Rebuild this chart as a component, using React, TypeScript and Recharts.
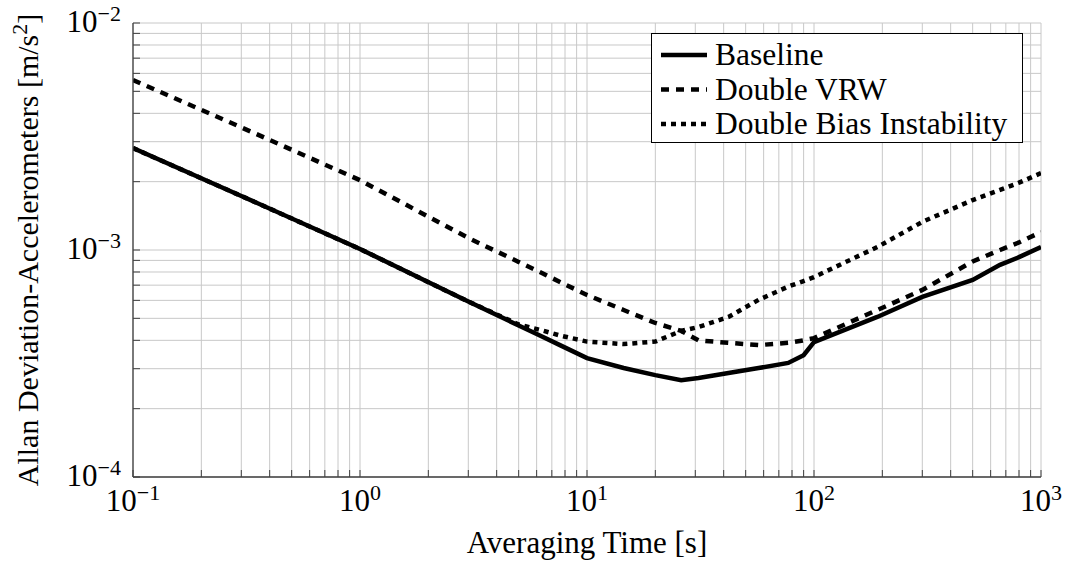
import React from "react";
import { LineChart, Line, XAxis, YAxis, CartesianGrid, Legend } from "recharts";

// averaging time [s] and the three Allan deviation curves [m/s^2]
const tau = [0.1, 0.3, 1, 3, 5, 6.2, 7.6, 10, 14.5, 20, 26, 31, 42, 57, 77, 90, 100, 190, 300, 500, 660, 800, 1000];
const baseline = [
  2.81e-3, 1.73e-3, 1.01e-3, 5.93e-4, 4.65e-4, 4.2e-4, 3.81e-4, 3.34e-4, 3.02e-4, 2.81e-4, 2.67e-4,
  2.73e-4, 2.87e-4, 3.02e-4, 3.18e-4, 3.44e-4, 3.93e-4, 5.07e-4, 6.21e-4, 7.38e-4, 8.6e-4, 9.3e-4, 1.03e-3,
];
const doubleVrw = [
  5.61e-3, 3.47e-3, 2.03e-3, 1.13e-3, 8.86e-4, 8.0e-4, 7.23e-4, 6.34e-4, 5.44e-4, 4.77e-4, 4.4e-4,
  4.0e-4, 3.9e-4, 3.81e-4, 3.9e-4, 4.0e-4, 4.09e-4, 5.44e-4, 6.67e-4, 8.9e-4, 1.0e-3, 1.08e-3, 1.2e-3,
];
const doubleBias = [
  2.81e-3, 1.73e-3, 1.01e-3, 5.93e-4, 4.7e-4, 4.45e-4, 4.2e-4, 3.95e-4, 3.85e-4, 3.95e-4, 4.4e-4,
  4.58e-4, 5.07e-4, 6.03e-4, 6.9e-4, 7.3e-4, 7.6e-4, 1.03e-3, 1.33e-3, 1.66e-3, 1.84e-3, 1.98e-3, 2.18e-3,
];

const xDecades = [0.1, 1, 10, 100, 1000];
const xExponents = ["−1", "0", "1", "2", "3"];
const yDecades = [1e-4, 1e-3, 1e-2];
const yExponents = ["−4", "−3", "−2"];
const minorSteps = [1, 2, 3, 4, 5, 6, 7, 8, 9];

const series = [
  { key: "baseline", name: "Baseline", dash: undefined as string | undefined },
  { key: "doubleVrw", name: "Double VRW", dash: "8 7" },
  { key: "doubleBias", name: "Double Bias Instability", dash: "5 5" },
];

const data = tau.map((t, i) => ({
  tau: t,
  baseline: baseline[i],
  doubleVrw: doubleVrw[i],
  doubleBias: doubleBias[i],
}));

const logTicks = (decades: number[]) => {
  const out: number[] = [];
  decades.forEach((d, i) => {
    if (i < decades.length - 1) minorSteps.forEach((m) => out.push(d * m));
    else out.push(d);
  });
  return out;
};
const xTicks = logTicks(xDecades);
const yTicks = logTicks(yDecades);

const FONT = "'Liberation Serif', serif";
const AXIS = "#404040";
const GRID = "#c8c8c8";

const findDecade = (decades: number[], v: number) =>
  decades.findIndex((d) => Math.abs(d - v) / d < 1e-6);

const XTick = (props: any) => {
  const { x, payload } = props;
  const idx = findDecade(xDecades, payload.value);
  if (idx < 0) return <g />;
  return (
    <text x={x} y={511} textAnchor="middle" fontFamily={FONT} fontSize={31} fill="#000">
      10
      <tspan dy={-11} fontSize={22}>
        {xExponents[idx]}
      </tspan>
    </text>
  );
};

const YTick = (props: any) => {
  const { y, payload } = props;
  const idx = findDecade(yDecades, payload.value);
  if (idx < 0) return <g />;
  return (
    <text x={121} y={y + 9} textAnchor="end" fontFamily={FONT} fontSize={31} fill="#000">
      10
      <tspan dy={-11} fontSize={22}>
        {yExponents[idx]}
      </tspan>
    </text>
  );
};

const LegendBox = () => (
  <svg width={372} height={110} style={{ display: "block" }}>
    <rect x={0.5} y={0.5} width={371} height={109} fill="#fff" stroke="#000" strokeWidth={1} />
    {series.map((s, i) => {
      const cy = 22 + i * 34.5;
      return (
        <g key={s.key}>
          <line x1={10} x2={56} y1={cy} y2={cy} stroke="#000" strokeWidth={4.5} strokeDasharray={s.dash} />
          <text x={64} y={cy + 10} fontFamily={FONT} fontSize={31.5} fill="#000">
            {s.name}
          </text>
        </g>
      );
    })}
  </svg>
);

export default function App() {
  return (
    <div style={{ position: "absolute", left: 0, top: 0, width: 1066, height: 565, background: "#fff" }}>
      <LineChart width={1066} height={565} data={data} margin={{ top: 23, right: 25, left: 0, bottom: 0 }}>
        <CartesianGrid xAxisId="b" yAxisId="l" stroke={GRID} strokeWidth={1} />
        <XAxis
          xAxisId="b"
          dataKey="tau"
          type="number"
          scale="log"
          domain={[0.1, 1000]}
          allowDataOverflow
          ticks={xTicks}
          interval={0}
          height={88}
          tickSize={-7}
          tickMargin={0}
          tick={<XTick />}
          tickLine={{ stroke: AXIS }}
          axisLine={{ stroke: AXIS, strokeWidth: 1.3 }}
          label={{
            content: () => (
              <text x={587} y={553} textAnchor="middle" fontFamily={FONT} fontSize={31} fill="#000">
                Averaging Time [s]
              </text>
            ),
          }}
        />
        <XAxis
          xAxisId="t"
          orientation="top"
          type="number"
          scale="log"
          domain={[0.1, 1000]}
          allowDataOverflow
          ticks={xTicks}
          interval={0}
          height={0}
          tickSize={-7}
          tick={false}
          tickLine={{ stroke: AXIS }}
          axisLine={{ stroke: AXIS, strokeWidth: 1.3 }}
        />
        <YAxis
          yAxisId="l"
          type="number"
          scale="log"
          domain={[1e-4, 1e-2]}
          allowDataOverflow
          ticks={yTicks}
          interval={0}
          width={133}
          tickSize={-7}
          tickMargin={0}
          tick={<YTick />}
          tickLine={{ stroke: AXIS }}
          axisLine={{ stroke: AXIS, strokeWidth: 1.3 }}
          label={{
            content: () => (
              <text
                x={38}
                y={250}
                transform="rotate(-90 38 250)"
                textAnchor="middle"
                fontFamily={FONT}
                fontSize={30}
                fill="#000"
              >
                Allan Deviation-Accelerometers [m/s
                <tspan dy={-11} fontSize={22}>
                  2
                </tspan>
                <tspan dy={11}>]</tspan>
              </text>
            ),
          }}
        />
        <YAxis
          yAxisId="r"
          orientation="right"
          type="number"
          scale="log"
          domain={[1e-4, 1e-2]}
          allowDataOverflow
          ticks={yTicks}
          interval={0}
          width={0}
          tickSize={-7}
          tick={false}
          tickLine={{ stroke: AXIS }}
          axisLine={{ stroke: AXIS, strokeWidth: 1.3 }}
        />
        {series.map((s) => (
          <Line
            key={s.key}
            xAxisId="b"
            yAxisId="l"
            type="linear"
            dataKey={s.key}
            name={s.name}
            stroke="#000"
            strokeWidth={4.5}
            strokeDasharray={s.dash}
            dot={false}
            activeDot={false}
            isAnimationActive={false}
          />
        ))}
        <Legend
          layout="vertical"
          align="center"
          verticalAlign="middle"
          content={() => <LegendBox />}
          wrapperStyle={{ left: 651, top: 33, width: 372, height: 110 }}
        />
      </LineChart>
    </div>
  );
}
